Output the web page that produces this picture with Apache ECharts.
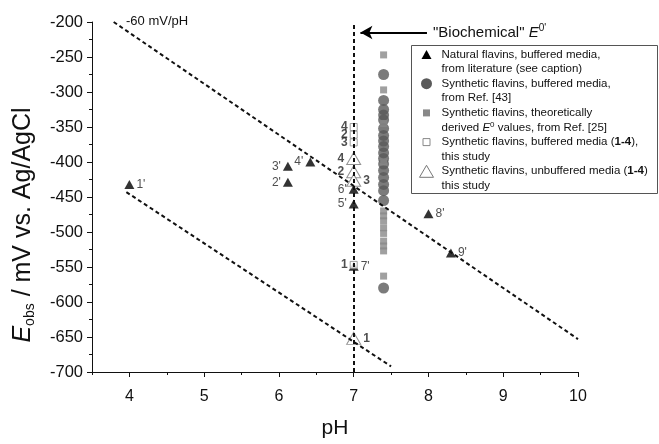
<!DOCTYPE html>
<html><head><meta charset="utf-8">
<script src="https://cdn.jsdelivr.net/npm/echarts@6/dist/echarts.min.js"></script>
<style>html,body{margin:0;padding:0;background:#fff}#c{width:659px;height:444px}</style>
</head><body><div id="c"></div>
<script>
// ---- data ----
const naturalPH = [4.0, 6.12, 6.12, 6.42, 7.0, 7.0, 7.0, 8.0, 8.3];
const naturalE = [-432, -429, -406, -400, -460, -439, -549, -474, -530];
const naturalLabels = ["1'", "2'", "3'", "4'", "5'", "6'", "7'", "8'", "9'"];
const ref43PH = 7.4;
const ref43E = [-275, -312, -325, -333, -340, -352, -362, -370, -378, -387, -395, -403, -412, -422, -432, -441, -455, -580];
const ref25PH = 7.4;
const ref25E = [-247, -297, -345, -400, -470, -477, -484, -494, -502, -513, -520, -527, -563];
const studyPH = 7.0;
const bufferedE = [-350, -361, -372, -547];
const bufferedLabels = ['4', '2', '3', '1'];
const unbufferedE = [-395, -414, -426, -652];
const unbufferedLabels = ['4', '2', '3', '1'];
const upperLinePH = [3.79, 10.0];
const upperLineE = [-200, -653];
const lowerLinePH = [3.96, 7.5];
const lowerLineE = [-443, -692];
const biochemPH = 7.0;
const arrowPH = [7.98, 7.09];
const arrowE = -215;
const xTicks = [4, 5, 6, 7, 8, 9, 10];
const xMinorTicks = [3.5, 4.5, 5.5, 6.5, 7.5, 8.5, 9.5];
const legendNames = [
  ['Natural flavins, buffered media,', 'from literature (see caption)'],
  ['Synthetic flavins, buffered media,', 'from Ref. [43]'],
  ['Synthetic flavins, theoretically', '{t|derived }{i|E}{sup|0}{t| values, from Ref. [25]}'],
  ['{t|Synthetic flavins, buffered media (}{b|1-4}{t|),}', 'this study'],
  ['{t|Synthetic flavins, unbuffered media (}{b|1-4}{t|)}', 'this study']
];

// ---- styles ----
const FONT = '"Liberation Sans", Arial, sans-serif';
const naturalLabelPos = ['right', 'left', 'left', 'left', 'left', 'left', 'right', 'right', 'right'];
const unbufLabelPos = ['left', 'left', 'right', 'right'];

const pts = (xs, ys) => ys.map((y, i) => [Array.isArray(xs) ? xs[i] : xs, y]);

const chart = echarts.init(document.getElementById('c'), null, {renderer: 'canvas'});

const legendX = 411, legendY = 45, legendW = 246, legendH = 148;
const legendIcons = [
  {type: 'polygon', shape: {points: [[0, -4.5], [5, 4.5], [-5, 4.5]]}, style: {fill: '#000'}},
  {type: 'circle', shape: {cx: 0, cy: 0, r: 5.5}, style: {fill: '#5a5a5a'}},
  {type: 'rect', shape: {x: -3.5, y: -3.5, width: 7, height: 7}, style: {fill: '#888'}},
  {type: 'rect', shape: {x: -3.5, y: -3.5, width: 7, height: 7}, style: {fill: '#fff', stroke: '#888', lineWidth: 1}},
  {type: 'polygon', shape: {points: [[0, -6], [7, 6], [-7, 6]]}, style: {fill: '#fff', stroke: '#777', lineWidth: 1}}
];
const legendRich = {
  t: {fontSize: 11.5, fontFamily: FONT, color: '#111'},
  b: {fontSize: 11.5, fontFamily: FONT, fontWeight: 'bold', color: '#111'},
  i: {fontSize: 11.5, fontFamily: FONT, fontStyle: 'italic', color: '#111'},
  sup: {fontSize: 8, fontFamily: FONT, color: '#111', verticalAlign: 'top', padding: [0, 0, 6, 0]}
};
const legendChildren = [{type: 'rect', shape: {x: 0, y: 0, width: legendW, height: legendH}, style: {fill: '#fff', stroke: '#555', lineWidth: 1}}];
legendNames.forEach((lines, k) => {
  const cy = 9 + k * 29.2;
  const ic = legendIcons[k];
  legendChildren.push(Object.assign({}, ic, {x: 15, y: cy}));
  lines.forEach((ln, j) => {
    const txt = ln.indexOf('{') === 0 ? ln : '{t|' + ln + '}';
    legendChildren.push({type: 'text', x: 30, y: cy + j * 14.6, style: {text: txt, rich: legendRich, verticalAlign: 'middle', fill: '#111'}});
  });
});

const option = {
  animation: false,
  backgroundColor: '#fff',
  grid: {left: 92, right: 81, top: 22, bottom: 67, containLabel: false},
  xAxis: [{
    type: 'value', min: 3.5, max: 10,
    name: 'pH', nameLocation: 'middle', nameGap: 46,
    nameTextStyle: {fontSize: 21, fontFamily: FONT, color: '#111'},
    axisLine: {lineStyle: {color: '#111', width: 1}},
    axisTick: {show: true, length: 5, inside: false, customValues: xTicks, lineStyle: {color: '#111'}},
    axisLabel: {customValues: xTicks, fontSize: 16, fontFamily: FONT, color: '#111', margin: 17},
    splitLine: {show: false}
  }, {
    type: 'value', min: 3.5, max: 10, position: 'bottom',
    axisLine: {show: false},
    axisTick: {show: true, length: 3, customValues: xMinorTicks, lineStyle: {color: '#111'}},
    axisLabel: {show: false},
    splitLine: {show: false}
  }],
  yAxis: {
    type: 'value', min: -700, max: -200, interval: 50,
    name: '{i|E}{s|obs}{n| / mV vs. Ag/AgCl}', nameLocation: 'middle', nameGap: 55, nameRotate: 90,
    nameTextStyle: {padding: [0, 56, 0, 0], rich: {
      i: {fontSize: 25, fontFamily: FONT, fontStyle: 'italic', color: '#111', lineHeight: 28},
      s: {fontSize: 14, fontFamily: FONT, color: '#111', verticalAlign: 'bottom', lineHeight: 28, padding: [9, 0, 0, 0]},
      n: {fontSize: 25, fontFamily: FONT, color: '#111', lineHeight: 28}
    }},
    axisLine: {show: true, lineStyle: {color: '#111', width: 1}},
    axisTick: {show: true, length: 5, lineStyle: {color: '#111'}},
    minorTick: {show: true, splitNumber: 2, length: 3, lineStyle: {color: '#111'}},
    axisLabel: {fontSize: 16.5, fontFamily: FONT, color: '#111', margin: 9},
    splitLine: {show: false}
  },
  graphic: [
    {type: 'text', left: 126, top: 15, style: {text: '-60 mV/pH', font: '13px ' + FONT, fill: '#111'}},
    {type: 'group', left: legendX, top: legendY, children: legendChildren}
  ],
  series: [
    {
      type: 'line', data: pts(upperLinePH, upperLineE), symbol: 'none', silent: true,
      lineStyle: {color: '#111', width: 2, type: [4, 3]},
      markLine: {
        silent: true, symbol: ['none', 'arrow'], symbolSize: [10, 12],
        lineStyle: {color: '#000', width: 2, type: 'solid'},
        label: {show: true, position: 'start', distance: 6,
          formatter: '{a|"Biochemical" }{i|E}{s|0\'}',
          rich: {
            a: {fontSize: 15, fontFamily: FONT, color: '#111'},
            i: {fontSize: 15, fontFamily: FONT, fontStyle: 'italic', color: '#111'},
            s: {fontSize: 10, fontFamily: FONT, color: '#111', verticalAlign: 'top', padding: [0, 0, 8, 0]}
          }},
        data: [[{coord: [arrowPH[0], arrowE]}, {coord: [arrowPH[1], arrowE]}]]
      }
    },
    {
      type: 'line', data: pts(lowerLinePH, lowerLineE), symbol: 'none', silent: true,
      lineStyle: {color: '#111', width: 2, type: [4, 3]},
      markLine: {
        silent: true, symbol: ['none', 'none'], label: {show: false},
        lineStyle: {color: '#111', width: 2, type: [4, 3]},
        data: [{xAxis: biochemPH}]
      }
    },
    {
      name: 'Synthetic flavins, buffered media, from Ref. [43]',
      type: 'scatter', data: pts(ref43PH, ref43E), symbol: 'circle', symbolSize: 11,
      itemStyle: {color: '#5a5a5a'}
    },
    {
      name: 'Synthetic flavins, theoretically derived E0 values, from Ref. [25]',
      type: 'scatter', data: pts(ref25PH, ref25E), symbol: 'rect', symbolSize: 7,
      itemStyle: {color: '#888'}
    },
    {
      name: 'Natural flavins, buffered media, from literature (see caption)',
      type: 'scatter', symbol: 'triangle', symbolSize: [10, 9],
      itemStyle: {color: '#000'},
      data: naturalE.map((e, i) => ({value: [naturalPH[i], e], label: {show: true, position: naturalLabelPos[i], formatter: naturalLabels[i], distance: 2, fontSize: 12, fontFamily: FONT, color: '#222'}}))
    },
    {
      name: 'Synthetic flavins, buffered media (1-4), this study',
      type: 'scatter', symbol: 'rect', symbolSize: 7,
      itemStyle: {color: '#fff', borderColor: '#888', borderWidth: 1},
      data: bufferedE.map((e, i) => ({value: [studyPH, e], label: {show: true, position: 'left', formatter: bufferedLabels[i], distance: 2, fontSize: 12, fontWeight: 'bold', fontFamily: FONT, color: '#222'}}))
    },
    {
      name: 'Synthetic flavins, unbuffered media (1-4), this study',
      type: 'scatter', symbol: 'triangle', symbolSize: [14, 12],
      itemStyle: {color: '#fff', borderColor: '#777', borderWidth: 1},
      data: unbufferedE.map((e, i) => ({value: [studyPH, e], label: {show: true, position: unbufLabelPos[i], formatter: unbufferedLabels[i], distance: 2, fontSize: 12, fontWeight: 'bold', fontFamily: FONT, color: '#222'}}))
    }
  ]
};
chart.setOption(option);
</script>
</body></html>
